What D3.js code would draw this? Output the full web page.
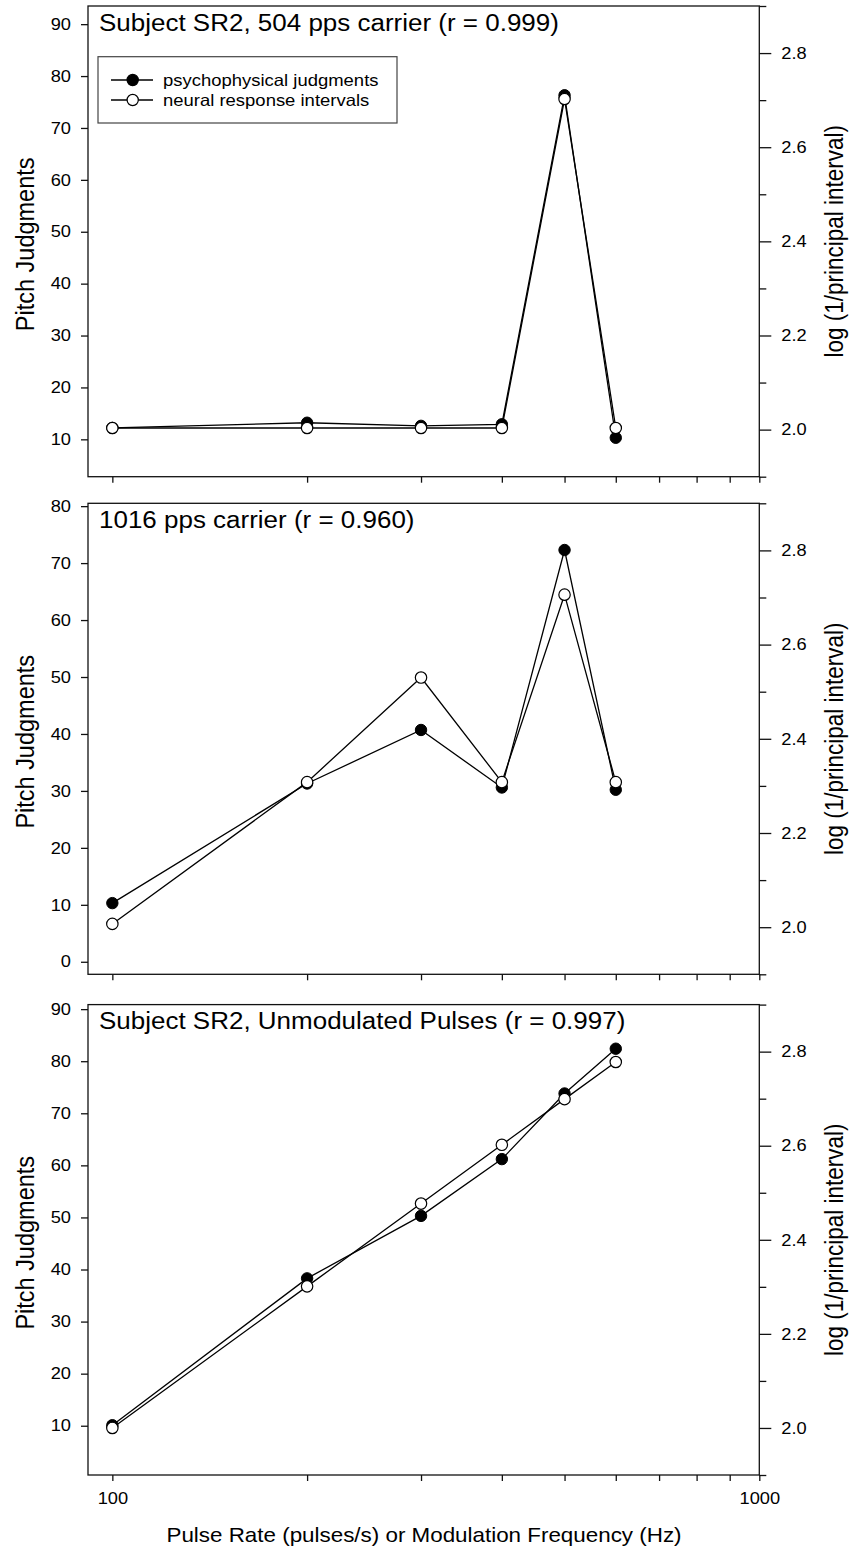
<!DOCTYPE html>
<html>
<head>
<meta charset="utf-8">
<script src="https://cdn.jsdelivr.net/npm/d3@7"></script>
<style>
  body { margin: 0; background: #fff; }
  svg { display: block; }
  text { font-family: "Liberation Sans", Arial, Helvetica, sans-serif; fill: #000; }
</style>
</head>
<body>
<svg id="chart" width="851" height="1550"></svg>
<script>
// Pulse rate / modulation frequency (Hz) shared by all three panels
const rates = [100, 200, 300, 400, 500, 600];

// 504 pps carrier
const psych504  = [12.2, 13.2, 12.6, 12.9, 76.3, 10.3];
const neural504 = [2.0035, 2.0035, 2.0035, 2.0035, 2.7024, 2.0035];

// 1016 pps carrier
const psych1016  = [10.3, 31.3, 40.7, 30.6, 72.3, 30.2];
const neural1016 = [2.007, 2.308, 2.530, 2.308, 2.706, 2.308];

// Unmodulated pulse trains
const psychUnmod  = [10.1, 38.3, 50.3, 61.2, 73.8, 82.4];
const neuralUnmod = [2.000, 2.301, 2.477, 2.602, 2.699, 2.778];

const panelTitles = [
  "Subject SR2, 504 pps carrier (r = 0.999)",
  "1016 pps carrier (r = 0.960)",
  "Subject SR2, Unmodulated Pulses (r = 0.997)"
];
const legendLabels = ["psychophysical judgments", "neural response intervals"];

const leftTicks504   = [10, 20, 30, 40, 50, 60, 70, 80, 90];
const leftTicks1016  = [0, 10, 20, 30, 40, 50, 60, 70, 80];
const leftTicksUnmod = [10, 20, 30, 40, 50, 60, 70, 80, 90];
const rightMajorTicks = [2.0, 2.2, 2.4, 2.6, 2.8];
const rightMinorTicks = [1.9, 2.1, 2.3, 2.5, 2.7, 2.9];
const xTicks = [100, 200, 300, 400, 500, 600, 700, 800, 900, 1000];
const xLabelledTicks = [100, 1000];

const leftAxisTitle  = "Pitch Judgments";
const rightAxisTitle = "log (1/principal interval)";
const xAxisTitle = "Pulse Rate (pulses/s) or Modulation Frequency (Hz)";

// ---------------------------------------------------------------------------
const svg = d3.select("#chart");
const SX = 1.12;            // horizontal text stretch used throughout the figure
const X0 = 88, X1 = 759.3;  // plot frame left / right
const INK = "#111";
const TICK_FONT = 16.3;

const x = d3.scaleLog().domain([91.7, 1000]).range([X0, X1]);

const panels = [
  { top: 6,      bottom: 476.7, yDom: [2.8, 93.5],   psych: psych504,   neural: neural504,
    title: panelTitles[0], leftTicks: leftTicks504,   legend: true,  xLabels: false },
  { top: 503.3,  bottom: 974.3, yDom: [-2.2, 80.5],  psych: psych1016,  neural: neural1016,
    title: panelTitles[1], leftTicks: leftTicks1016,  legend: false, xLabels: false },
  { top: 1004.6, bottom: 1475,  yDom: [0.54, 90.87], psych: psychUnmod, neural: neuralUnmod,
    title: panelTitles[2], leftTicks: leftTicksUnmod, legend: false, xLabels: true }
];

// stretch axis tick labels horizontally around their anchor
function stretchLabels(g, size) {
  g.selectAll("text").each(function () {
    const t = d3.select(this);
    const tx = +t.attr("x") || 0;
    const ty = +t.attr("y") || 0;
    t.attr("x", 0).attr("y", 0)
     .attr("transform", `translate(${tx},${ty}) scale(${SX},1)`)
     .attr("font-size", size)
     .attr("fill", "#000");
  });
}

function styleAxis(g) {
  g.select(".domain").remove();
  g.selectAll(".tick line").attr("stroke", INK).attr("stroke-width", 1.3);
  g.attr("font-family", null);
}

panels.forEach((p) => {
  const g = svg.append("g").attr("class", "panel");
  const yL = d3.scaleLinear().domain(p.yDom).range([p.bottom, p.top]);
  const yR = d3.scaleLinear().domain([1.9, 2.9]).range([p.bottom, p.top]);

  // left axis
  const gl = g.append("g").attr("transform", `translate(${X0},0)`)
    .call(d3.axisLeft(yL).tickValues(p.leftTicks).tickSize(7).tickPadding(10).tickFormat(d3.format("d")));
  styleAxis(gl); stretchLabels(gl, TICK_FONT);

  // right axis (major + minor)
  const gr = g.append("g").attr("transform", `translate(${X1},0)`)
    .call(d3.axisRight(yR).tickValues(rightMajorTicks).tickSize(12).tickPadding(10).tickFormat(d3.format(".1f")));
  styleAxis(gr); stretchLabels(gr, TICK_FONT);
  const grm = g.append("g").attr("transform", `translate(${X1},0)`)
    .call(d3.axisRight(yR).tickValues(rightMinorTicks).tickSize(7).tickFormat(""));
  styleAxis(grm);

  // bottom axis
  const gb = g.append("g").attr("transform", `translate(0,${p.bottom})`)
    .call(d3.axisBottom(x).tickValues(xTicks).tickSize(6).tickPadding(11)
      .tickFormat(d => (p.xLabels && xLabelledTicks.includes(d)) ? String(d) : ""));
  styleAxis(gb); stretchLabels(gb, TICK_FONT);

  // frame
  g.append("rect")
    .attr("x", X0).attr("y", p.top)
    .attr("width", X1 - X0).attr("height", p.bottom - p.top)
    .attr("fill", "none").attr("stroke", INK).attr("stroke-width", 1.3);

  // series
  const pts = s => rates.map((r, k) => ({ r, v: s[k] }));
  const lineL = d3.line().x(d => x(d.r)).y(d => yL(d.v));
  const lineR = d3.line().x(d => x(d.r)).y(d => yR(d.v));

  g.append("path").datum(pts(p.psych)).attr("d", lineL)
    .attr("fill", "none").attr("stroke", "#000").attr("stroke-width", 1.3);
  g.append("path").datum(pts(p.neural)).attr("d", lineR)
    .attr("fill", "none").attr("stroke", "#000").attr("stroke-width", 1.3);

  g.selectAll(".psych").data(pts(p.psych)).join("circle")
    .attr("class", "psych")
    .attr("cx", d => x(d.r)).attr("cy", d => yL(d.v)).attr("r", 5.7)
    .attr("fill", "#000").attr("stroke", "#000").attr("stroke-width", 1);
  g.selectAll(".neural").data(pts(p.neural)).join("circle")
    .attr("class", "neural")
    .attr("cx", d => x(d.r)).attr("cy", d => yR(d.v)).attr("r", 5.7)
    .attr("fill", "#fff").attr("stroke", "#000").attr("stroke-width", 1.2);

  // panel title
  g.append("text")
    .attr("transform", `translate(99,${p.top + 24.5}) scale(${SX},1)`)
    .attr("font-size", 23.2)
    .text(p.title);

  // axis titles
  const cy = (p.top + p.bottom) / 2;
  g.append("text")
    .attr("transform", `translate(34,${cy + 3}) scale(${SX},1) rotate(-90)`)
    .attr("text-anchor", "middle").attr("font-size", 23.5)
    .text(leftAxisTitle);
  g.append("text")
    .attr("transform", `translate(843,${cy}) scale(${SX},1) rotate(-90)`)
    .attr("text-anchor", "middle").attr("font-size", 22.5)
    .text(rightAxisTitle);

  // legend
  if (p.legend) {
    const lg = g.append("g");
    lg.append("rect").attr("x", 98).attr("y", 56.7).attr("width", 299).attr("height", 66.3)
      .attr("fill", "#fff").attr("stroke", "#444").attr("stroke-width", 1.2);
    legendLabels.forEach((lab, k) => {
      const ly = 80 + k * 20;
      lg.append("line").attr("x1", 111).attr("x2", 153).attr("y1", ly).attr("y2", ly)
        .attr("stroke", "#000").attr("stroke-width", 1.3);
      lg.append("circle").attr("cx", 132.7).attr("cy", ly).attr("r", 5.6)
        .attr("fill", k === 0 ? "#000" : "#fff").attr("stroke", "#000").attr("stroke-width", 1.2);
      lg.append("text")
        .attr("transform", `translate(163,${ly + 5.8}) scale(${SX},1)`)
        .attr("font-size", 16.5).text(lab);
    });
  }
});

// shared x-axis title
svg.append("text")
  .attr("transform", `translate(424,1541.5) scale(${SX},1)`)
  .attr("text-anchor", "middle").attr("font-size", 20)
  .text(xAxisTitle);
</script>
</body>
</html>
